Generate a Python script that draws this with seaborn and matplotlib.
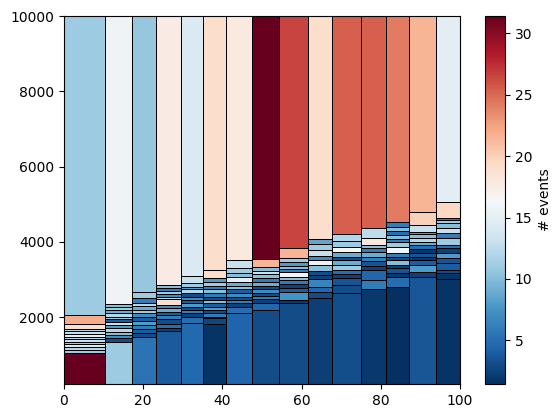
import matplotlib
matplotlib.use("Agg")
import matplotlib.pyplot as plt
import numpy as np
import seaborn as sns

# x bin edges (shared)
x_edges = [0, 10.4, 17.2, 23.2, 29.5, 35.0, 41.0, 47.6, 54.4, 61.7, 67.8, 74.9, 81.3, 87.2, 93.9, 100]

# y bin edges and counts, one pair per x column
y_edges_01 = [229, 1044, 1132, 1211, 1291, 1357, 1424, 1490, 1557, 1623, 1689, 1814, 2048, 10000]
counts_01 = [31.4, 11, 12, 14, 11, 13, 12, 15, 13, 12, 19, 22, 11]

y_edges_02 = [229, 1352, 1442, 1530, 1618, 1708, 1796, 1883, 1955, 2016, 2106, 2194, 2266, 2353, 10000]
counts_02 = [11, 3, 7, 10, 12, 8, 13, 4, 11, 12, 9, 11, 10, 15.8]

y_edges_03 = [229, 1485, 1575, 1681, 1796, 1910, 2016, 2106, 2194, 2300, 2388, 2504, 2680, 10000]
counts_03 = [5.4, 3, 4, 6, 8, 4, 7, 11, 9, 12, 6, 11, 10.6]

y_edges_04 = [229, 1623, 1708, 1822, 1947, 2061, 2149, 2239, 2327, 2478, 2547, 2619, 2706, 2770, 2858, 10000]
counts_04 = [3.9, 2.5, 5, 3, 6, 4, 9, 7, 19, 12, 7, 11, 6, 10, 17.6]

y_edges_05 = [229, 1857, 2016, 2106, 2194, 2281, 2372, 2459, 2547, 2637, 2743, 2812, 2903, 3097, 10000]
counts_05 = [4.7, 5, 2.5, 6, 3, 8, 4, 7, 3, 12, 8, 11, 13, 14.3]

y_edges_06 = [229, 1822, 1973, 2016, 2106, 2194, 2281, 2372, 2459, 2547, 2637, 2743, 2831, 2945, 3035, 3256, 10000]
counts_06 = [1.7, 2.8, 2, 6, 3, 8, 4, 10, 3, 6, 10, 6, 11, 8, 19, 19.1]

y_edges_07 = [229, 2127, 2281, 2372, 2459, 2547, 2653, 2743, 2831, 2937, 3062, 3184, 3301, 3521, 10000]
counts_07 = [4.4, 5, 2.5, 6, 3, 7, 4, 10, 9, 15, 10, 11, 13, 17.9]

y_edges_08 = [229, 2181, 2388, 2478, 2566, 2653, 2743, 2831, 2945, 3035, 3150, 3237, 3328, 3548, 10000]
counts_08 = [3, 4.5, 2.5, 6, 3, 7, 3, 9, 6, 10, 13, 10, 21.5, 31.4]

y_edges_09 = [229, 2372, 2459, 2664, 2786, 2876, 2982, 3078, 3195, 3282, 3370, 3476, 3582, 3832, 10000]
counts_09 = [3, 2, 7.5, 4, 2.5, 6, 10, 16, 6, 10, 8, 11, 21.5, 26.6]

y_edges_10 = [229, 2504, 2664, 2812, 3017, 3123, 3229, 3389, 3521, 3635, 3787, 3938, 4079, 10000]
counts_10 = [2.3, 3, 4.5, 6.5, 2.5, 3, 10, 15.5, 7, 13, 11, 8.5, 19.1]

y_edges_11 = [229, 2653, 2858, 3035, 3142, 3256, 3389, 3521, 3609, 3726, 3874, 4026, 4212, 10000]
counts_11 = [3.2, 3, 3.5, 2.5, 5, 11, 9, 3, 9, 16.5, 11, 12, 25.4]

y_edges_12 = [229, 2751, 2990, 3256, 3370, 3495, 3609, 3726, 3832, 3920, 4113, 4363, 10000]
counts_12 = [2, 6, 4.5, 2.5, 3.5, 6, 9, 6, 10, 18, 12.5, 25.4]

y_edges_13 = [229, 2812, 3078, 3184, 3301, 3389, 3521, 3609, 3699, 3874, 4007, 4079, 4185, 4291, 4405, 4522, 10000]
counts_13 = [1.5, 5, 2, 3.5, 2.5, 10, 3, 6, 16, 11, 6, 10, 5, 10, 6, 24.2]

y_edges_14 = [229, 3078, 3195, 3389, 3521, 3609, 3699, 3813, 3920, 4007, 4113, 4204, 4273, 4451, 4804, 10000]
counts_14 = [3.6, 2.5, 8, 4, 2, 3.5, 2, 5, 9, 12, 10, 8, 13, 20, 21.5]

y_edges_15 = [229, 3009, 3168, 3256, 3434, 3566, 3699, 3832, 3920, 4097, 4230, 4379, 4496, 4583, 4644, 5061, 10000]
counts_15 = [1.7, 1.8, 3, 4, 3.5, 8, 2.5, 5, 11, 6, 13, 10, 11, 6, 19.5, 14.9]

columns = [
    (y_edges_01, counts_01), (y_edges_02, counts_02), (y_edges_03, counts_03),
    (y_edges_04, counts_04), (y_edges_05, counts_05), (y_edges_06, counts_06),
    (y_edges_07, counts_07), (y_edges_08, counts_08), (y_edges_09, counts_09),
    (y_edges_10, counts_10), (y_edges_11, counts_11), (y_edges_12, counts_12),
    (y_edges_13, counts_13), (y_edges_14, counts_14), (y_edges_15, counts_15),
]

cmap = sns.color_palette("RdBu_r", as_cmap=True)
vmin, vmax = 1.45, 31.4

fig = plt.figure(figsize=(5.6, 4.18), dpi=100)
ax = fig.add_axes([64 / 560, 34 / 418, 396 / 560, 368 / 418])
cax = fig.add_axes([485 / 560, 34 / 418, 20 / 560, 368 / 418])

mesh = None
for i, (ye, cnt) in enumerate(columns):
    xe = x_edges[i:i + 2]
    c = np.array(cnt, dtype=float).reshape(-1, 1)
    mesh = ax.pcolormesh(xe, ye, c, cmap=cmap, vmin=vmin, vmax=vmax,
                         edgecolors="k", linewidth=0.7)

ax.set_xlim(0, 100)
ax.set_ylim(229, 10000)

cb = fig.colorbar(mesh, cax=cax)
cb.set_label("# events")

fig.savefig("out.png", dpi=100)
